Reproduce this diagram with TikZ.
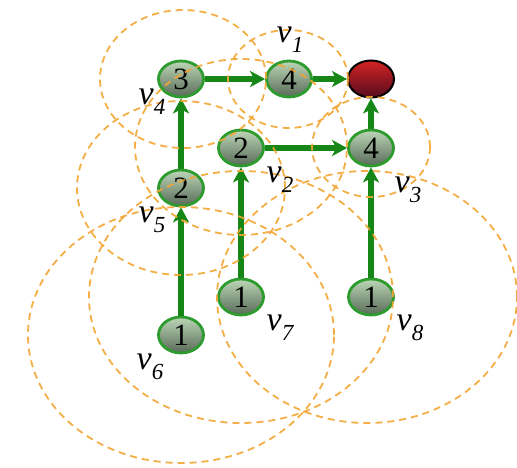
\documentclass[tikz,border=0pt]{standalone}
\usepackage{fontspec}
\setmainfont{Liberation Serif}
\usetikzlibrary{shapes.geometric,arrows.meta}
\definecolor{nodetop}{RGB}{188,214,182}
\definecolor{nodebot}{RGB}{88,106,88}
\definecolor{nodeborder}{RGB}{45,155,45}
\definecolor{sinktop}{RGB}{210,35,35}
\definecolor{sinkbot}{RGB}{85,12,30}
\definecolor{arrowgreen}{RGB}{22,135,22}
\definecolor{rangeorange}{RGB}{242,165,50}
\tikzset{
  sensor/.style={ellipse, minimum width=45pt, minimum height=36pt, inner sep=0pt,
    line width=2.8pt, draw=nodeborder, top color=nodetop, bottom color=nodebot,
    font=\fontsize{31}{31}\selectfont},
  sinknode/.style={ellipse, minimum width=46pt, minimum height=37pt, inner sep=0pt,
    line width=2pt, draw=black, top color=sinktop, bottom color=sinkbot},
  flow/.style={draw=arrowgreen, line width=5.5pt,
    -{Stealth[length=15pt, width=16pt, inset=4pt]}},
  rangering/.style={draw=rangeorange, line width=1.8pt, dash pattern=on 7pt off 5pt, opacity=0.9},
  vlabel/.style={font=\fontsize{34}{34}\selectfont\itshape, inner sep=0pt}
}
\newcommand{\vlab}[1]{v\raisebox{-0.3em}{\fontsize{23}{23}\selectfont #1}}
\begin{document}
\begin{tikzpicture}[x=1pt, y=-1pt]
\useasboundingbox (0,0) rectangle (517,468);
% nodes
\node[sensor] (v4) at (181,79) {3};
\node[sensor] (v1) at (289,79) {4};
\node[sinknode] (s)  at (371,79) {};
\node[sensor] (v2) at (241,148) {2};
\node[sensor] (v3) at (371,148) {4};
\node[sensor] (v5) at (181,188) {2};
\node[sensor] (v7) at (241,297) {1};
\node[sensor] (v8) at (371,297) {1};
\node[sensor] (v6) at (181,335) {1};
% arrows
\draw[flow] (v4) -- (v1);
\draw[flow] (v1) -- (s);
\draw[flow] (v2) -- (v3);
\draw[flow] (v3) -- (s);
\draw[flow] (v5) -- (v4);
\draw[flow] (v6) -- (v5);
\draw[flow] (v7) -- (v2);
\draw[flow] (v8) -- (v3);
% ranges
\draw[rangering] (183,79) ellipse [x radius=83pt, y radius=69pt];
\draw[rangering] (288,79) ellipse [x radius=60pt, y radius=49pt];
\draw[rangering] (371,147) ellipse [x radius=59pt, y radius=50pt];
\draw[rangering] (241,147) ellipse [x radius=106pt, y radius=88pt];
\draw[rangering] (181,188) ellipse [x radius=104pt, y radius=87pt];
\draw[rangering] (181,335) ellipse [x radius=153pt, y radius=128pt];
\draw[rangering] (241,297) ellipse [x radius=152pt, y radius=126pt];
\draw[rangering] (367,297) ellipse [x radius=150pt, y radius=126pt];
% labels
\node[vlabel] (l1) at (290,40) {\vlab{1}};
\node[vlabel] (l4) at (152,102) {\vlab{4}};
\node[vlabel] (l2) at (280,180) {\vlab{2}};
\node[vlabel] (l3) at (408,190) {\vlab{3}};
\node[vlabel] (l5) at (152,220) {\vlab{5}};
\node[vlabel] (l7) at (280,328) {\vlab{7}};
\node[vlabel] (l8) at (410,328) {\vlab{8}};
\node[vlabel] (l6) at (150,367) {\vlab{6}};
\end{tikzpicture}
\end{document}
